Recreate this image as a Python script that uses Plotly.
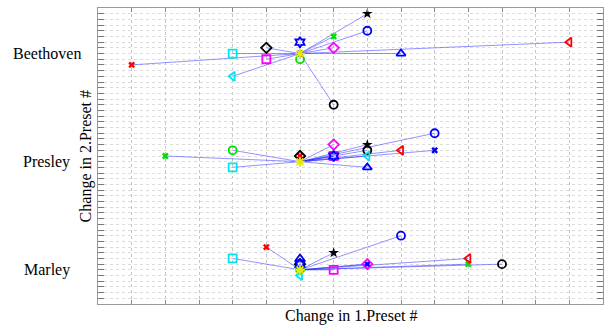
import plotly.graph_objects as go

# ---- data ----
composers = ["Beethoven", "Presley", "Marley"]
composer_y = [44, 25, 6]

series_names = ["P1", "P2", "P3", "P4", "P5", "P6", "P7", "P8",
                "P9", "P10", "P11", "P12", "P13", "P14", "P15", "P16"]
series_colors = ["#ff0000", "#00e000", "#0000ff", "#00e5ee", "#ff00ff", "#000000",
                 "#ff00ff", "#0000ff", "#00e000", "#000000", "#0000ff", "#ff0000",
                 "#00e5ee", "#000000", "#0000ff", "#e8e800"]
series_symbols = ["x", "x", "x", "square-open", "square-open", "diamond-open",
                  "diamond-open", "circle-open", "circle-open", "circle-open",
                  "triangle-up-open", "triangle-left-open", "triangle-left-open",
                  "star", "hexagram-open", "asterisk-open"]

beethoven_dx = [-5, 1, 0, -2, -1, -1, 1, 2, 0, 1, 3, 8, -2, 2, 0, 0]
beethoven_dy = [-2, 3, 0, 0, -1, 1, 1, 4, -1, -9, 0, 2, -4, 7, 2, 0]
presley_dx = [0, -4, 4, -2, 1, 0, 1, 4, -2, 2, 2, 3, 2, 2, 1, 0]
presley_dy = [1, 1, 2, -1, 1, 1, 3, 5, 2, 2, -1, 2, 1, 3, 1, 0]
marley_dx = [-1, 5, 2, -2, 1, 0, 2, 3, 0, 6, 0, 5, 0, 1, 0, 0]
marley_dy = [4, 1, 1, 2, 0, 1, 1, 6, 0, 1, 2, 2, -1, 3, 1, 0]

all_dx = [beethoven_dx, presley_dx, marley_dx]
all_dy = [beethoven_dy, presley_dy, marley_dy]

fig = go.Figure()

# connecting lines from each composer centre to every point
for s in range(len(series_names)):
    xs, ys = [], []
    for c in range(len(composers)):
        xs += [0, all_dx[c][s], None]
        ys += [composer_y[c], composer_y[c] + all_dy[c][s], None]
    fig.add_trace(go.Scatter(x=xs, y=ys, mode="lines",
                             line=dict(color="rgba(40,40,255,0.5)", width=1),
                             hoverinfo="skip", showlegend=False))

# markers
for s in range(len(series_names)):
    xs = [all_dx[c][s] for c in range(len(composers))]
    ys = [composer_y[c] + all_dy[c][s] for c in range(len(composers))]
    sym = series_symbols[s]
    if sym == "x":
        mk = dict(symbol=sym, size=6, color=series_colors[s], line=dict(width=0))
    elif sym == "star":
        mk = dict(symbol=sym, size=8, color=series_colors[s], line=dict(width=0))
    else:
        mk = dict(symbol=sym, size=8, color=series_colors[s],
                  line=dict(color=series_colors[s], width=1.8))
    fig.add_trace(go.Scatter(x=xs, y=ys, mode="markers", marker=mk,
                             name=series_names[s], showlegend=False))

font_family = "Liberation Serif, Times New Roman, serif"

annotations = []
for name, yv in zip(composers, composer_y):
    annotations.append(dict(text=name, x=-0.101, xref="paper", y=yv, yref="y",
                            xanchor="center", yanchor="middle", showarrow=False,
                            font=dict(family=font_family, size=16, color="black")))
annotations.append(dict(text="Change in 2.Preset #", x=-0.023, xref="paper",
                        y=0.5, yref="paper", textangle=-90, showarrow=False,
                        xanchor="center", yanchor="middle",
                        font=dict(family=font_family, size=16, color="black")))
annotations.append(dict(text="Change in 1.Preset #", x=0.5, xref="paper",
                        y=-0.005, yref="paper", showarrow=False,
                        xanchor="center", yanchor="top",
                        font=dict(family=font_family, size=16, color="black")))

fig.update_layout(
    width=604, height=327,
    margin=dict(l=98, r=1, t=8, b=23),
    paper_bgcolor="white", plot_bgcolor="white",
    annotations=annotations,
    xaxis=dict(range=[-6, 9], dtick=1, tick0=0, showticklabels=False,
               showgrid=True, gridcolor="#c4c4c4", griddash="dot", gridwidth=1,
               zeroline=False, showline=True, linecolor="#999999", linewidth=1,
               mirror="allticks", ticks="inside", ticklen=4, tickcolor="#888888"),
    yaxis=dict(range=[0, 52], dtick=1, tick0=0, showticklabels=False,
               showgrid=True, gridcolor="#dcdcdc", griddash="dot", gridwidth=1,
               zeroline=False, showline=True, linecolor="#999999", linewidth=1,
               mirror="allticks", ticks="inside", ticklen=6, tickcolor="#777777"),
)

fig.write_html("out.html", config={"displayModeBar": False},
               post_script="document.body.style.margin='0';document.body.style.overflow='hidden';")
